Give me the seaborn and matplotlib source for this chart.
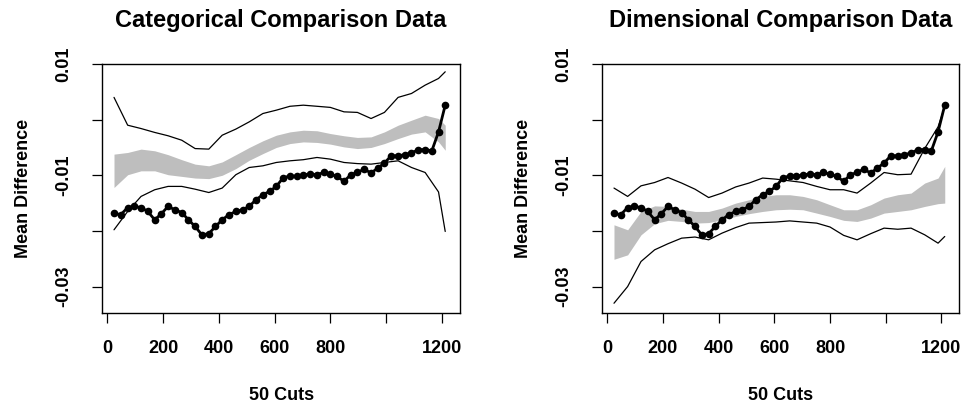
import numpy as np
import matplotlib
matplotlib.use("Agg")
import matplotlib.pyplot as plt
import seaborn as sns
import pandas as pd

# ---------------- data (values in units of 0.001) ----------------
cuts = [24, 48, 73, 97, 121, 145, 170, 194, 218, 242, 267, 291, 315, 339, 364,
        388, 412, 436, 461, 485, 509, 533, 558, 582, 606, 630, 655, 679, 703, 727,
        752, 776, 800, 824, 849, 873, 897, 921, 946, 970, 994, 1018, 1043, 1067,
        1091, 1115, 1140, 1164, 1188, 1212]
observed = [-16.8, -17.1, -15.8, -15.6, -15.8, -16.5, -18.0, -16.9, -15.6, -16.2,
            -16.7, -18.0, -19.2, -20.7, -20.5, -19.2, -18.0, -17.1, -16.5, -16.2,
            -15.6, -14.4, -13.5, -12.9, -12.0, -10.5, -10.1, -10.2, -9.9, -9.8,
            -9.9, -9.5, -9.8, -10.2, -11.1, -9.9, -9.5, -8.9, -9.6, -8.7,
            -7.8, -6.5, -6.5, -6.3, -6.0, -5.4, -5.4, -5.6, -2.2, 2.6]

band_x = [24, 73, 121, 170, 218, 267, 315, 364, 412, 461, 509, 558, 606, 655,
          703, 752, 800, 849, 897, 946, 994, 1043, 1091, 1140, 1188, 1212]

cat_upper = [4.0, -1.0, -1.6, -2.3, -2.9, -3.7, -5.2, -5.3, -2.8, -1.7, -0.4, 1.1,
             1.7, 2.4, 2.6, 2.4, 2.2, 1.4, 1.3, 0.2, 1.3, 4.0, 4.7, 6.2, 7.4, 8.6]
cat_lower = [-19.8, -16.5, -13.8, -12.6, -12.0, -12.0, -12.5, -13.1, -12.3, -9.9,
             -8.6, -8.3, -7.7, -7.4, -7.2, -6.8, -7.1, -7.7, -7.9, -8.0, -7.7,
             -7.4, -8.6, -9.5, -13.0, -20.1]
cat_band_hi = [-6.2, -5.9, -5.3, -5.6, -6.3, -7.2, -8.0, -8.3, -7.6, -6.3, -5.0,
               -3.8, -2.8, -2.2, -1.9, -2.0, -2.5, -2.9, -3.2, -3.1, -2.2, -1.0,
               -0.1, 0.8, 0.2, -1.0]
cat_band_lo = [-12.2, -9.9, -9.2, -9.2, -9.9, -10.2, -10.5, -10.6, -10.0, -8.8,
               -7.3, -6.1, -5.0, -4.3, -4.0, -4.1, -4.4, -4.9, -5.2, -5.0, -4.3,
               -3.4, -2.6, -2.2, -4.0, -5.5]

dim_upper = [-12.3, -13.8, -11.9, -11.3, -10.4, -11.4, -12.5, -14.0, -13.2, -12.1,
             -11.4, -10.5, -10.7, -11.0, -11.3, -12.0, -12.6, -12.6, -13.2, -11.4,
             -9.5, -9.9, -9.8, -5.2, -1.3, 2.3]
dim_lower = [-33.0, -30.0, -25.5, -23.4, -22.3, -21.3, -21.1, -21.6, -20.4, -19.4,
             -18.6, -18.5, -18.4, -18.2, -18.4, -18.6, -19.3, -20.8, -21.6, -20.5,
             -19.5, -19.7, -19.5, -20.7, -22.2, -21.0]
dim_band_hi = [-18.9, -19.8, -16.5, -15.5, -15.6, -16.1, -16.5, -16.5, -15.9, -15.0,
               -14.4, -13.8, -13.5, -13.5, -13.8, -14.4, -15.3, -16.2, -16.2, -15.3,
               -14.1, -13.5, -13.2, -11.4, -10.5, -8.4]
dim_band_lo = [-25.1, -24.3, -20.7, -18.7, -18.1, -18.3, -18.6, -18.5, -18.0, -17.4,
               -16.9, -16.5, -16.2, -16.1, -16.2, -16.8, -17.4, -18.1, -18.3, -17.7,
               -16.8, -16.5, -16.2, -15.6, -15.1, -15.0]

titles = ["Categorical Comparison Data", "Dimensional Comparison Data"]
x_label = "50 Cuts"
y_label = "Mean Difference"
x_ticks = [0, 200, 400, 600, 800, 1000, 1200]
x_tick_labels = ["0", "200", "400", "600", "800", "", "1200"]
y_ticks = [0.01, 0.0, -0.01, -0.02, -0.03]
y_tick_labels = ["0.01", "", "-0.01", "", "-0.03"]

SCALE = 0.001

# ---------------- style ----------------
sns.set_style("white")
plt.rcParams["font.family"] = ["Liberation Sans", "DejaVu Sans"]
plt.rcParams["font.weight"] = "bold"
for key in ["text.color", "axes.labelcolor", "xtick.color", "ytick.color",
            "axes.edgecolor"]:
    plt.rcParams[key] = "black"

fig = plt.figure(figsize=(9.69, 4.07), dpi=100)
W, H = 969, 407
boxes = [(102.3, 460.0), (602.3, 959.5)]
top_px, bot_px = 64.0, 312.7

panels = [
    (cat_upper, cat_lower, cat_band_hi, cat_band_lo),
    (dim_upper, dim_lower, dim_band_hi, dim_band_lo),
]

obs_df = pd.DataFrame({"cut": cuts, "diff": np.array(observed) * SCALE})

for i, (x0, x1) in enumerate(boxes):
    ax = fig.add_axes([x0 / W, (H - bot_px) / H, (x1 - x0) / W, (bot_px - top_px) / H])
    up, lo, bh, bl = panels[i]
    bdf = pd.DataFrame({"cut": band_x,
                        "hi": np.array(bh) * SCALE,
                        "lo": np.array(bl) * SCALE,
                        "up": np.array(up) * SCALE,
                        "low": np.array(lo) * SCALE})
    ax.fill_between(bdf["cut"], bdf["lo"], bdf["hi"], color="#BEBEBE", lw=0, zorder=1)
    sns.lineplot(data=bdf, x="cut", y="up", ax=ax, color="black", lw=0.9, zorder=2)
    sns.lineplot(data=bdf, x="cut", y="low", ax=ax, color="black", lw=0.9, zorder=2)
    sns.lineplot(data=obs_df, x="cut", y="diff", ax=ax, color="black", lw=2.0,
                 marker="o", markersize=5.5, markeredgewidth=0, zorder=3)

    ax.set_xlim(-18, 1265)
    ax.set_ylim(-0.0347, 0.01)
    for s in ax.spines.values():
        s.set_visible(True)
        s.set_linewidth(1.0)
        s.set_color("black")

    ax.set_xticks(x_ticks)
    ax.set_xticklabels(x_tick_labels, fontsize=13, fontweight="bold")
    ax.set_yticks(y_ticks)
    ax.set_yticklabels(y_tick_labels, fontsize=13, fontweight="bold",
                       rotation=90, va="center")
    ax.tick_params(axis="both", direction="out", length=7.5, width=0.9,
                   color="black", labelcolor="black", bottom=True, left=True)
    ax.tick_params(axis="x", pad=12)
    ax.tick_params(axis="y", pad=14)

    ax.set_xlabel(x_label, fontsize=13, fontweight="bold", labelpad=22)
    ax.set_ylabel(y_label, fontsize=13, fontweight="bold", labelpad=17)
    ax.set_title(titles[i], fontsize=17, fontweight="bold", pad=27)

fig.savefig("out.png", dpi=100, facecolor="white")
